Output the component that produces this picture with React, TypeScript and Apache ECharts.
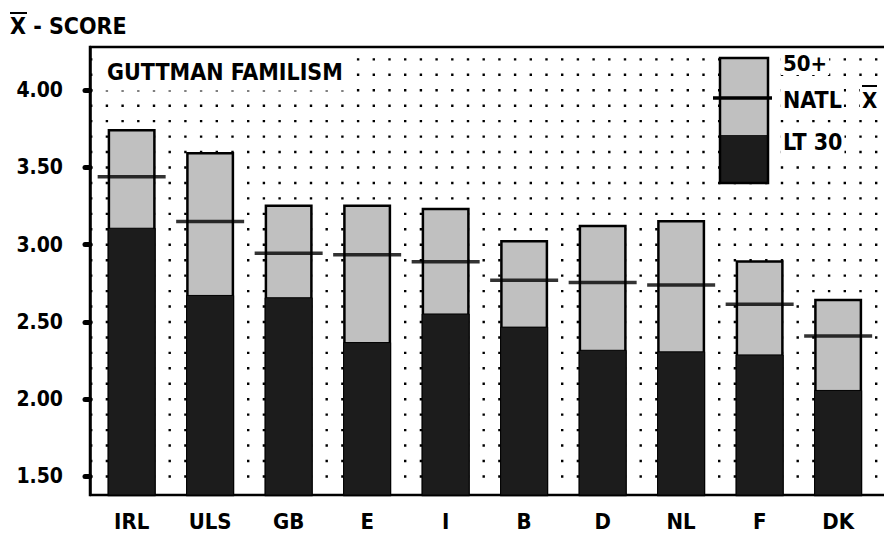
import React, { useEffect, useRef } from 'react';
import * as echarts from 'echarts';

const categories = ['IRL', 'ULS', 'GB', 'E', 'I', 'B', 'D', 'NL', 'F', 'DK'];
const age50Plus = [3.75, 3.6, 3.26, 3.26, 3.24, 3.03, 3.13, 3.16, 2.9, 2.65];
const natlMean = [3.44, 3.15, 2.945, 2.935, 2.89, 2.77, 2.755, 2.74, 2.615, 2.41];
const lt30 = [3.11, 2.675, 2.66, 2.37, 2.555, 2.47, 2.32, 2.31, 2.29, 2.06];
const yTicks = [1.5, 2.0, 2.5, 3.0, 3.5, 4.0];
const dotRows = [1.5, 1.6, 1.7, 1.8, 1.9, 2.0, 2.1, 2.2, 2.3, 2.4, 2.5, 2.6, 2.7, 2.8, 2.9, 3.0, 3.1, 3.2, 3.3, 3.4, 3.5, 3.6, 3.7, 3.8, 3.9, 4.0, 4.1, 4.2];
const yMin = 1.38;
const yMax = 4.28;

const FONT = '"DejaVu Sans Condensed", "DejaVu Sans", sans-serif';
const WEIGHT = 'bold';
const LIGHT = '#c0c0c0';
const DARK = '#1c1c1c';

export default function App() {
  const ref = useRef<HTMLDivElement>(null);
  useEffect(() => {
    if (!ref.current) return;
    const chart = echarts.init(ref.current, null, { renderer: 'svg' });
    const txt = (text: string, x: number, y: number, size: number, pad: number[] = [1, 2]) => ({
      type: 'text',
      x,
      y,
      z: 12,
      style: {
        text,
        fill: '#000',
        fontFamily: FONT,
        fontWeight: WEIGHT,
        fontSize: size,
        textVerticalAlign: 'middle',
        backgroundColor: '#fff',
        padding: pad,
      },
    });
    const option: any = {
      animation: false,
      backgroundColor: '#fff',
      grid: [
        { left: 90, right: 5, top: 47, bottom: 46, show: true, borderColor: '#000', borderWidth: 2.5, backgroundColor: 'transparent' },
        { left: 92.4, right: 14.6, top: 47, bottom: 46 },
      ],
      xAxis: [
        { gridIndex: 0, type: 'value', min: 0, max: 1, show: false },
        {
          gridIndex: 1,
          type: 'category',
          data: categories,
          axisLine: { show: false },
          axisTick: { show: false },
          axisLabel: { color: '#000', fontFamily: FONT, fontWeight: WEIGHT, fontSize: 22, margin: 15 },
        },
      ],
      yAxis: [
        {
          gridIndex: 0,
          type: 'value',
          min: yMin,
          max: yMax,
          axisLine: { show: true, lineStyle: { color: '#000', width: 2.5 } },
          axisTick: { show: true, customValues: yTicks, length: 5, lineStyle: { color: '#000', width: 5, cap: 'round' } },
          axisLabel: {
            customValues: yTicks,
            formatter: (v: number) => v.toFixed(2),
            color: '#000',
            fontFamily: FONT,
            fontWeight: WEIGHT,
            fontSize: 21,
            margin: 27,
          },
          splitLine: { show: false },
        },
        { gridIndex: 1, type: 'value', min: yMin, max: yMax, show: false, splitLine: { show: false } },
      ],
      series: [
        {
          type: 'custom',
          xAxisIndex: 0,
          yAxisIndex: 0,
          z: 1,
          silent: true,
          data: dotRows.map((v) => [0, v]),
          renderItem: (params: any, api: any) => {
            const p = api.coord([0, api.value(1)]);
            const cs = params.coordSys;
            return {
              type: 'line',
              shape: { x1: cs.x, y1: p[1], x2: cs.x + cs.width, y2: p[1] },
              style: { stroke: '#000', lineWidth: 2.4, lineDash: [2.4, 13.3] },
              silent: true,
            };
          },
        },
        {
          name: '50+',
          type: 'bar',
          xAxisIndex: 1,
          yAxisIndex: 1,
          data: age50Plus,
          barWidth: 48,
          barGap: '-100%',
          z: 2,
          itemStyle: { color: LIGHT, borderColor: '#000', borderWidth: 2.5 },
        },
        {
          name: 'LT 30',
          type: 'bar',
          xAxisIndex: 1,
          yAxisIndex: 1,
          data: lt30,
          barWidth: 48,
          barGap: '-100%',
          z: 3,
          itemStyle: { color: DARK, borderColor: '#000', borderWidth: 1 },
        },
        {
          name: 'NATL X',
          type: 'scatter',
          xAxisIndex: 1,
          yAxisIndex: 1,
          data: natlMean,
          symbol: 'rect',
          symbolSize: [68, 3.5],
          z: 4,
          itemStyle: { color: '#000' },
        },
      ],
      graphic: [
        {
          type: 'text',
          left: 10,
          top: 14,
          style: { text: 'X - SCORE', fill: '#000', fontFamily: FONT, fontWeight: WEIGHT, fontSize: 23 },
        },
        {
          type: 'line',
          shape: { x1: 10, y1: 13, x2: 27, y2: 13 },
          style: { stroke: '#000', lineWidth: 2 },
        },
        txt('GUTTMAN FAMILISM', 93, 72, 23, [8, 12, 6, 14]),
        {
          type: 'rect',
          z: 10,
          shape: { x: 720, y: 58, width: 48, height: 77 },
          style: { fill: LIGHT, stroke: 'none' },
        },
        {
          type: 'rect',
          z: 10,
          shape: { x: 720, y: 135, width: 48, height: 48 },
          style: { fill: DARK, stroke: 'none' },
        },
        {
          type: 'rect',
          z: 11,
          shape: { x: 720, y: 58, width: 48, height: 125 },
          style: { fill: 'none', stroke: '#000', lineWidth: 2.5 },
        },
        {
          type: 'line',
          z: 12,
          shape: { x1: 713, y1: 98, x2: 772, y2: 98 },
          style: { stroke: '#000', lineWidth: 3.5 },
        },
        txt('50+', 781, 63, 22),
        txt('NATL', 781, 100, 23),
        txt('X', 860, 100, 22),
        {
          type: 'line',
          z: 13,
          shape: { x1: 862, y1: 86, x2: 877, y2: 86 },
          style: { stroke: '#000', lineWidth: 2 },
        },
        txt('LT 30', 781, 142, 23),
      ],
    };
    chart.setOption(option);
    return () => chart.dispose();
  }, []);
  return <div ref={ref} style={{ width: 892, height: 541, margin: -8 }} />;
}
